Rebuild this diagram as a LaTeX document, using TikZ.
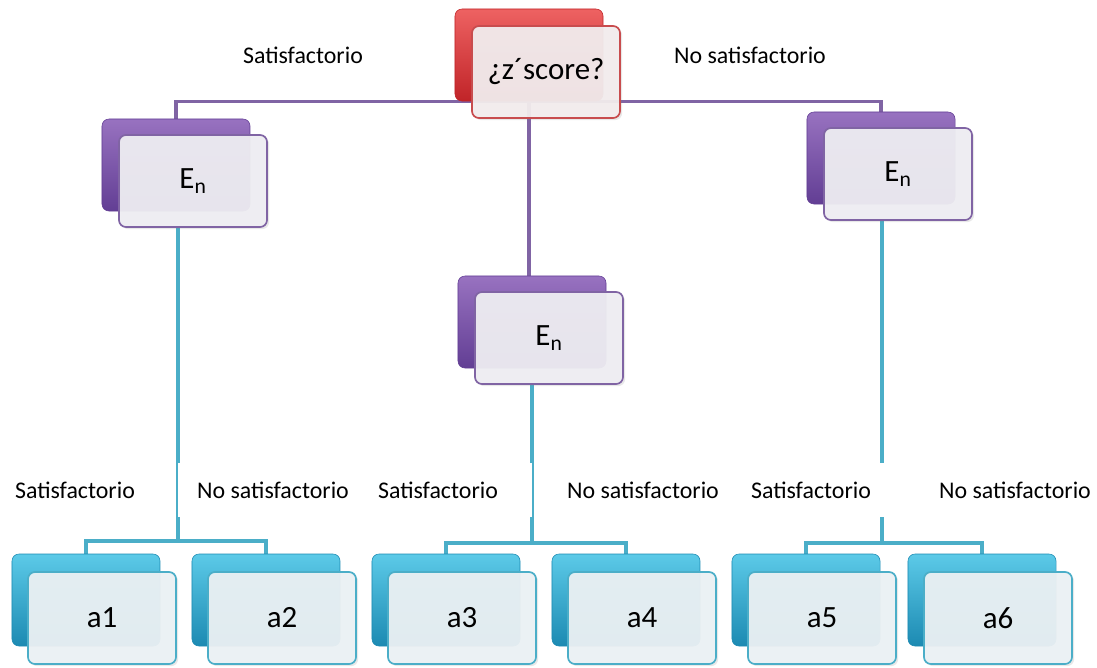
\documentclass[tikz,border=0pt]{standalone}
\usepackage{fontspec}
\setmainfont{Carlito}
\usetikzlibrary{backgrounds,shadows}

\definecolor{redtop}{RGB}{238,98,98}
\definecolor{redbot}{RGB}{192,36,40}
\definecolor{redline}{RGB}{200,76,78}
\definecolor{redfill}{RGB}{242,236,237}
\definecolor{purtop}{RGB}{152,114,192}
\definecolor{purbot}{RGB}{98,62,148}
\definecolor{purline}{RGB}{128,100,164}
\definecolor{purfill}{RGB}{238,237,242}
\definecolor{teatop}{RGB}{92,202,232}
\definecolor{teabot}{RGB}{28,138,178}
\definecolor{tealine}{RGB}{75,174,200}
\definecolor{teafill}{RGB}{235,241,244}

\begin{document}
\begin{tikzpicture}[x=0.025cm, y=-0.025cm,
    box/.style={rounded corners=5pt, minimum width=3.7cm, minimum height=2.3cm, inner sep=0pt},
    backbox/.style={box, top color=#1top, bottom color=#1bot, draw=#1bot, line width=0.4pt},
    frontbox/.style={box, fill=#1fill, fill opacity=0.95, text opacity=1, draw=#1line, line width=1.2pt,
        drop shadow={opacity=0.18, shadow xshift=1.5pt, shadow yshift=-1.5pt},
        font=\fontsize{22}{26}\selectfont},
    purpleline/.style={draw=purline, line width=2.2pt},
    tealline/.style={draw=tealine, line width=2.5pt},
    lbl/.style={fill=white, minimum height=1.35cm, inner sep=2pt, font=\fontsize{17}{20}\selectfont}]
  \useasboundingbox (0,0) rectangle (1097,667);

  % decision node
  \node[backbox=red] (zb) at (529,55) {};
  \node[frontbox=red] (z) at (546,72) {\raisebox{-3pt}{¿z´score?}};

  % second level
  \node[backbox=pur] (enlb) at (176,165) {};
  \node[frontbox=pur] (enl) at (193,181) {\raisebox{-3pt}{E\textsubscript{n}}};
  \node[backbox=pur] (enmb) at (532,322) {};
  \node[frontbox=pur] (enm) at (549,338) {\raisebox{-3pt}{E\textsubscript{n}}};
  \node[backbox=pur] (enrb) at (881,158) {};
  \node[frontbox=pur] (enr) at (898,174) {\raisebox{-3pt}{E\textsubscript{n}}};

  % leaves
  \foreach \i/\x in {1/86, 2/266, 3/446, 4/626, 5/806, 6/982} {
    \node[backbox=tea] (a\i b) at (\x,600) {};
    \node[frontbox=tea] (a\i) at (\x+16,618) {a\i};
  }

  % junctions
  \coordinate (jl) at (178,541);
  \coordinate (jm) at (532,543);
  \coordinate (jr) at (882,543);

  \begin{pgfonlayer}{background}
    \draw[purpleline] (enlb.north) |- (zb.south) -| (enrb.north);
    \draw[purpleline] (zb.south) -- (zb.south |- enmb.north);
    \draw[tealline] (enl.south -| jl) -- (jl);
    \draw[tealline] (a1b.north) |- (jl) -| (a2b.north);
    \draw[tealline] (enm.south -| jm) -- (jm);
    \draw[tealline] (a3b.north) |- (jm) -| (a4b.north);
    \draw[tealline] (enr.south -| jr) -- (jr);
    \draw[tealline] (a5b.north) |- (jr) -| (a6b.north);
  \end{pgfonlayer}

  % labels
  \node[lbl] (s0) at (303,55) {Satisfactorio};
  \node[lbl] (n0) at (750,55) {No satisfactorio};
  \node[lbl] (s1) at (75,490) {Satisfactorio};
  \node[lbl, minimum width=4.7cm] (s2) at (438,490) {Satisfactorio};
  \node[lbl, minimum width=4.75cm] (n1) at (273,490) {No satisfactorio};
  \node[lbl] (n2) at (643,490) {No satisfactorio};
  \node[lbl, minimum width=3.75cm] (s3) at (811,490) {Satisfactorio};
  \node[lbl] (n3) at (1015,490) {No satisfactorio};
\end{tikzpicture}
\end{document}
